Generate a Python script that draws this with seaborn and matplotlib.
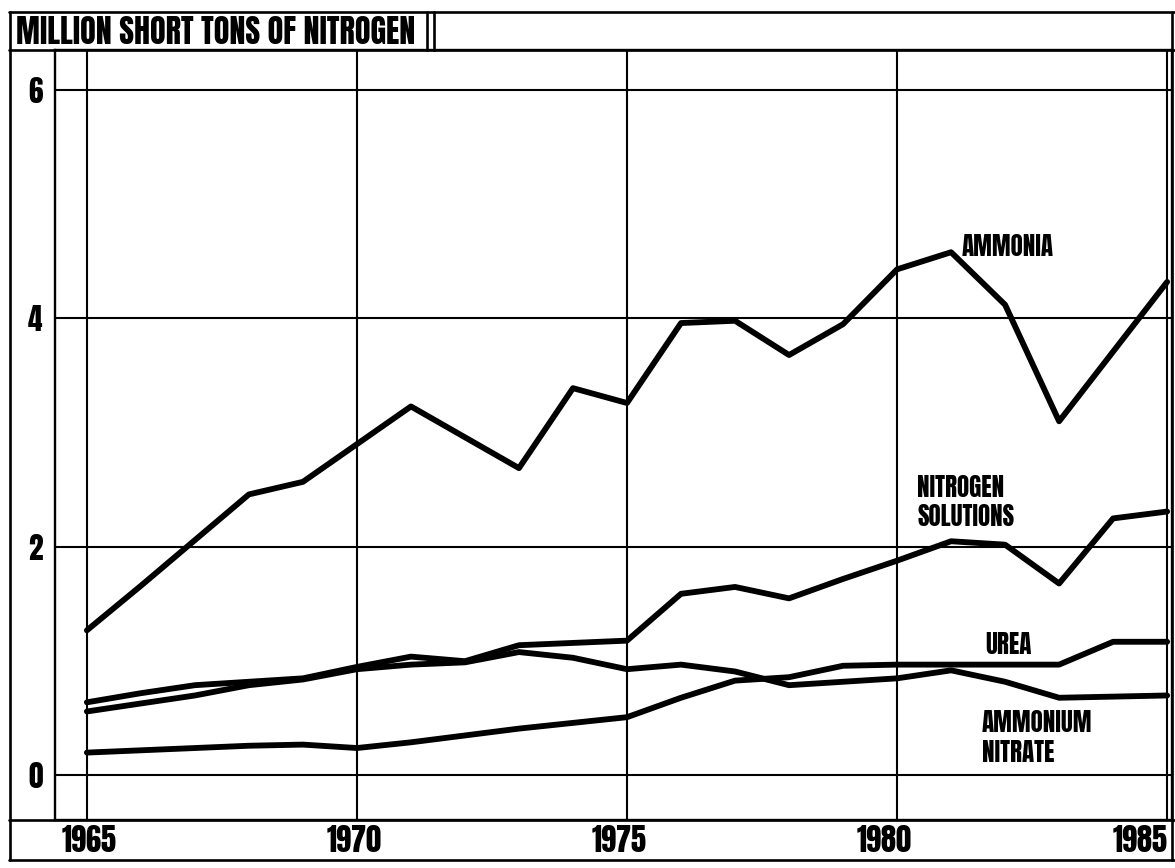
import matplotlib
matplotlib.use('Agg')
import matplotlib.pyplot as plt
import matplotlib.lines as mlines
from matplotlib import font_manager as fm
import pandas as pd
import seaborn as sns

# values (million short tons of N)
years = list(range(1965, 1986))
ammonia = [1.27, 1.66, 2.06, 2.46, 2.57, 2.90, 3.23, 2.96, 2.69, 3.39, 3.26,
           3.96, 3.98, 3.68, 3.95, 4.43, 4.58, 4.12, 3.10, 3.71, 4.32]
nitrogen_solutions = [0.64, 0.72, 0.79, 0.82, 0.85, 0.95, 1.04, 1.00, 1.14, 1.16, 1.18,
                      1.59, 1.65, 1.55, 1.72, 1.88, 2.05, 2.02, 1.68, 2.25, 2.31]
ammonium_nitrate = [0.56, 0.63, 0.70, 0.79, 0.84, 0.93, 0.97, 0.99, 1.08, 1.03, 0.93,
                    0.97, 0.91, 0.79, 0.82, 0.85, 0.92, 0.82, 0.68, 0.69, 0.70]
urea = [0.20, 0.22, 0.24, 0.26, 0.27, 0.24, 0.29, 0.35, 0.41, 0.46, 0.51,
        0.68, 0.83, 0.86, 0.96, 0.97, 0.97, 0.97, 0.97, 1.17, 1.17]

x_ticks = [1965, 1970, 1975, 1980, 1985]
y_ticks = [0, 2, 4, 6]
title = 'MILLION SHORT TONS OF NITROGEN'

df = pd.DataFrame({'year': years, 'AMMONIA': ammonia,
                   'NITROGEN SOLUTIONS': nitrogen_solutions,
                   'AMMONIUM NITRATE': ammonium_nitrate, 'UREA': urea})
long = df.melt(id_vars='year', var_name='series', value_name='value')

sns.set_style('white')
# heavy condensed face like the original lettering, if one is installed
have = {f.name for f in fm.fontManager.ttflist}
cands = ['Anton', 'Oswald', 'Roboto Condensed', 'Liberation Sans Narrow',
         'DejaVu Sans Condensed', 'DejaVu Sans']
font = next(c for c in cands if c in have)
plt.rcParams['font.family'] = [font, 'DejaVu Sans']
plt.rcParams['font.weight'] = 'bold'
plt.rcParams['text.color'] = 'black'
plt.rcParams['xtick.color'] = 'black'
plt.rcParams['ytick.color'] = 'black'

W, H = 1175, 868
fig = plt.figure(figsize=(W / 100, H / 100), dpi=100)

def fx(x):
    return x / W

def fy(y):
    return 1 - y / H

# plot area in pixel terms: x 55..1172, y 50..820
ax = fig.add_axes([fx(55), fy(820), fx(1172) - fx(55), fy(50) - fy(820)])

sns.lineplot(data=long, x='year', y='value', hue='series',
             palette=['black'] * 4, legend=False, linewidth=4.2,
             estimator=None, ax=ax)

ax.set_xlim(1964.41, 1985.09)
ax.set_ylim(-0.39, 6.35)
ax.set_xticks(x_ticks)
ax.set_yticks(y_ticks)
ax.grid(True, color='black', linewidth=1.5)
ax.tick_params(length=0)
ax.set_xticklabels([])
ax.set_yticklabels([str(v) for v in y_ticks], fontsize=21, color='black')
ax.tick_params(axis='y', pad=9)
ax.set_xlabel('')
ax.set_ylabel('')
for s in ax.spines.values():
    s.set_color('black')
    s.set_linewidth(1.7)

# x labels in the band under the plot
for yr in x_ticks:
    xpix = 89 + (yr - 1965) * 53
    ha = 'center'
    if yr == 1985:
        xpix, ha = 1168, 'right'
    fig.text(fx(xpix), fy(840), str(yr), ha=ha, va='center', fontsize=22)

# frame lines around the chart
def hline(x0, x1, y, lw=1.9):
    fig.add_artist(mlines.Line2D([fx(x0), fx(x1)], [fy(y), fy(y)],
                                 color='black', linewidth=lw))

def vline(x, y0, y1, lw=1.9):
    fig.add_artist(mlines.Line2D([fx(x), fx(x)], [fy(y0), fy(y1)],
                                 color='black', linewidth=lw))

hline(9, 1175, 12)
hline(9, 1175, 860)
hline(9, 1175, 820)
hline(9, 1175, 50)
vline(10, 12, 860)
vline(1172, 12, 860)
vline(427, 12, 50)
vline(434, 12, 50)

fig.text(fx(16), fy(32), title, ha='left', va='center', fontsize=23)

# series labels
lab = dict(ha='left', va='center', fontsize=18)
fig.text(fx(962), fy(247), 'AMMONIA', **lab)
fig.text(fx(917), fy(487), 'NITROGEN', **lab)
fig.text(fx(917), fy(516), 'SOLUTIONS', **lab)
fig.text(fx(985), fy(645), 'UREA', **lab)
fig.text(fx(982), fy(722), 'AMMONIUM', **lab)
fig.text(fx(982), fy(752), 'NITRATE', **lab)

fig.savefig('out.png', dpi=100)
